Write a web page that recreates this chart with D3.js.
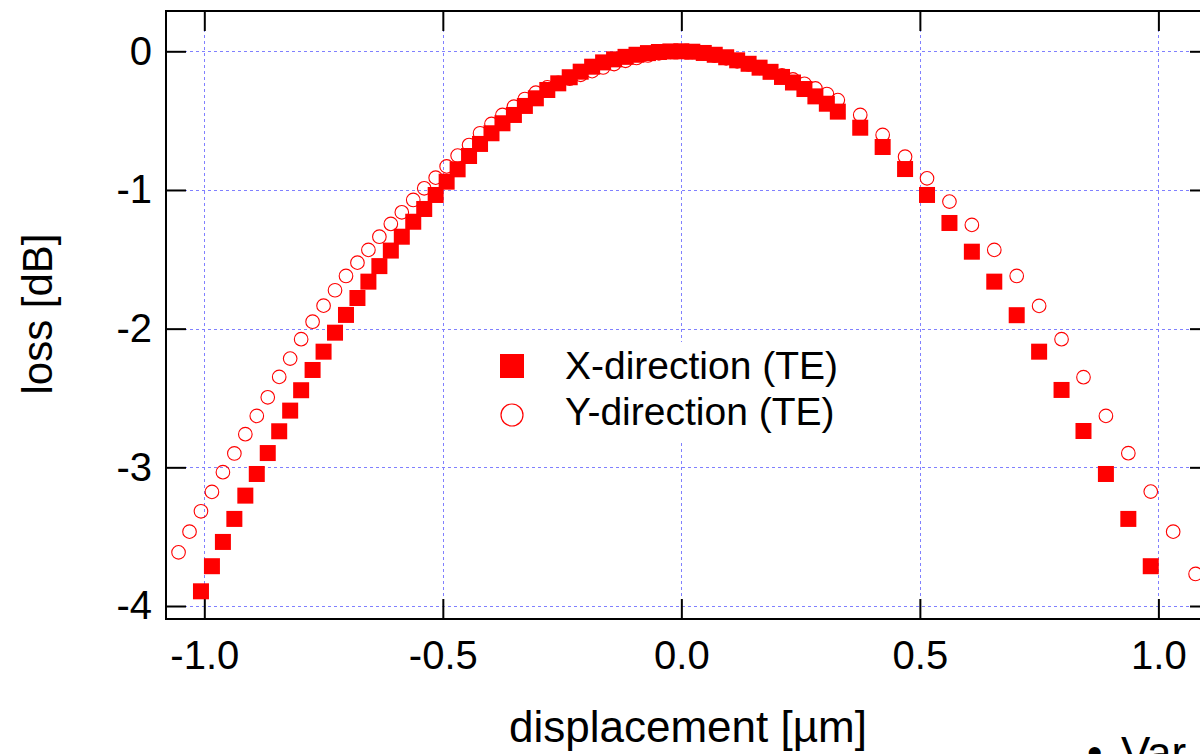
<!DOCTYPE html>
<html>
<head>
<meta charset="utf-8">
<script src="https://cdn.jsdelivr.net/npm/d3@7"></script>
<style>
  html, body { margin: 0; padding: 0; background: #fff; overflow: hidden; }
  svg { display: block; font-family: "Liberation Sans", Arial, sans-serif; }
</style>
</head>
<body>
<svg id="chart" width="1200" height="754"></svg>
<script>
// ---- data -------------------------------------------------------------
// X-direction (TE): displacement [µm]
const xDirPos = [
  -1.007, -0.984, -0.961, -0.937, -0.914, -0.890, -0.867, -0.843, -0.820, -0.797,
  -0.773, -0.750, -0.726, -0.703, -0.679, -0.656, -0.633, -0.609, -0.586, -0.562,
  -0.539, -0.515, -0.492, -0.469, -0.445, -0.422, -0.398, -0.375, -0.351, -0.328,
  -0.305, -0.281, -0.258, -0.234, -0.211, -0.187, -0.164, -0.141, -0.117, -0.094,
  -0.070, -0.047, -0.023, 0.000, 0.023, 0.047, 0.070, 0.094, 0.117, 0.141,
  0.164, 0.187, 0.211, 0.234, 0.258, 0.281, 0.305, 0.328,
  0.375, 0.422, 0.469, 0.515, 0.562, 0.609, 0.656, 0.703, 0.750, 0.797,
  0.843, 0.890, 0.937, 0.984
];
// X-direction (TE): loss [dB]
const xDirLoss = [
  -3.894, -3.713, -3.538, -3.372, -3.204, -3.048, -2.897, -2.740, -2.591, -2.444,
  -2.298, -2.166, -2.029, -1.901, -1.779, -1.661, -1.549, -1.437, -1.337, -1.229,
  -1.137, -1.036, -0.940, -0.851, -0.755, -0.668, -0.591, -0.519, -0.459, -0.394,
  -0.339, -0.279, -0.231, -0.187, -0.147, -0.111, -0.080, -0.058, -0.040, -0.025,
  -0.013, -0.005, -0.001, 0.000, -0.003, -0.012, -0.025, -0.043, -0.065, -0.090,
  -0.118, -0.148, -0.185, -0.225, -0.272, -0.325, -0.378, -0.435,
  -0.551, -0.690, -0.849, -1.036, -1.238, -1.445, -1.661, -1.903, -2.166, -2.442,
  -2.738, -3.048, -3.372, -3.713
];
// Y-direction (TE): displacement [µm]
const yDirPos = [
  -1.054, -1.031, -1.007, -0.984, -0.961, -0.937, -0.914, -0.890, -0.867, -0.843,
  -0.820, -0.797, -0.773, -0.750, -0.726, -0.703, -0.679, -0.656, -0.633, -0.609,
  -0.586, -0.562, -0.539, -0.515, -0.492, -0.469, -0.445, -0.422, -0.398, -0.375,
  -0.351, -0.328, -0.305, -0.281, -0.258, -0.234, -0.211, -0.187, -0.164, -0.141,
  -0.117, -0.094, -0.070, -0.047, -0.023, 0.000, 0.023, 0.047, 0.070, 0.094,
  0.117, 0.141, 0.164, 0.187, 0.211, 0.234, 0.258, 0.281, 0.305, 0.328,
  0.375, 0.422, 0.469, 0.515, 0.562, 0.609, 0.656, 0.703, 0.750, 0.797,
  0.843, 0.890, 0.937, 0.984, 1.031, 1.078
];
// Y-direction (TE): loss [dB]
const yDirLoss = [
  -3.613, -3.464, -3.317, -3.177, -3.035, -2.900, -2.761, -2.629, -2.495, -2.348,
  -2.216, -2.076, -1.950, -1.834, -1.723, -1.620, -1.524, -1.432, -1.337, -1.245,
  -1.161, -1.072, -0.988, -0.911, -0.830, -0.752, -0.676, -0.591, -0.524, -0.459,
  -0.399, -0.344, -0.298, -0.260, -0.228, -0.198, -0.170, -0.143, -0.117, -0.092,
  -0.069, -0.048, -0.030, -0.015, -0.004, 0.000, -0.005, -0.016, -0.032, -0.051,
  -0.072, -0.095, -0.120, -0.146, -0.174, -0.203, -0.234, -0.268, -0.308, -0.352,
  -0.459, -0.603, -0.760, -0.916, -1.084, -1.252, -1.432, -1.620, -1.836, -2.076,
  -2.350, -2.629, -2.898, -3.175, -3.464, -3.769
];

const xTicks = [-1.0, -0.5, 0.0, 0.5, 1.0];
const xTickLabels = ["-1.0", "-0.5", "0.0", "0.5", "1.0"];
const yTicks = [0, -1, -2, -3, -4];
const yTickLabels = ["0", "-1", "-2", "-3", "-4"];
const seriesNames = ["X-direction (TE)", "Y-direction (TE)"];
const xTitle = "displacement [µm]";
const yTitle = "loss [dB]";

// ---- layout -----------------------------------------------------------
const W = 1200, H = 754;
const plot = { left: 166, right: 1210, top: 11, bottom: 619 };
const RED = "#ff0000";
const GRID = "#8080ff";
const FONT = "'Liberation Sans', Arial, sans-serif";

const svg = d3.select("#chart");
svg.append("rect").attr("width", W).attr("height", H).attr("fill", "#fff");

const x = d3.scaleLinear().domain([-1.0803, 1.1082]).range([plot.left, plot.right]);
const y = d3.scaleLinear().domain([-4.0937, 0.2906]).range([plot.bottom, plot.top]);
const crisp = v => Math.round(v) + 0.5;

// ---- grid -------------------------------------------------------------
const grid = svg.append("g")
  .attr("stroke", GRID).attr("stroke-width", 1).attr("stroke-dasharray", "3,3");
grid.selectAll("line.gv").data(xTicks).join("line").attr("class", "gv")
  .attr("x1", d => crisp(x(d))).attr("x2", d => crisp(x(d)))
  .attr("y1", plot.top).attr("y2", plot.bottom);
grid.selectAll("line.gh").data(yTicks).join("line").attr("class", "gh")
  .attr("y1", d => crisp(y(d))).attr("y2", d => crisp(y(d)))
  .attr("x1", plot.left).attr("x2", plot.right);

// ---- axes (inward ticks on all four sides) -----------------------------
function styleAxis(g, fontSize) {
  g.select(".domain").remove();
  g.selectAll(".tick line").attr("stroke", "#000").attr("stroke-width", 2);
  g.selectAll(".tick text").attr("fill", "#000")
    .attr("font-family", FONT).attr("font-size", fontSize);
}
const gBottom = svg.append("g").attr("transform", `translate(0,${plot.bottom})`)
  .call(d3.axisBottom(x).tickValues(xTicks).tickSize(-20).tickPadding(22)
    .tickFormat((d, i) => xTickLabels[i]));
styleAxis(gBottom, 40);

const gTop = svg.append("g").attr("transform", `translate(0,${plot.top})`)
  .call(d3.axisTop(x).tickValues(xTicks).tickSize(-20).tickFormat(""));
styleAxis(gTop, 40);

const gLeft = svg.append("g").attr("transform", `translate(${plot.left},0)`)
  .call(d3.axisLeft(y).tickValues(yTicks).tickSize(-20).tickPadding(14)
    .tickFormat((d, i) => yTickLabels[i]));
styleAxis(gLeft, 40);

const gRight = svg.append("g").attr("transform", `translate(${plot.right},0)`)
  .call(d3.axisRight(y).tickValues(yTicks).tickSize(-20).tickFormat(""));
styleAxis(gRight, 40);

// frame
svg.append("rect")
  .attr("x", plot.left).attr("y", plot.top)
  .attr("width", plot.right - plot.left).attr("height", plot.bottom - plot.top)
  .attr("fill", "none").attr("stroke", "#000").attr("stroke-width", 2);

// ---- markers ----------------------------------------------------------
svg.append("clipPath").attr("id", "plotClip").append("rect")
  .attr("x", plot.left + 1).attr("y", plot.top + 1)
  .attr("width", plot.right - plot.left - 2).attr("height", plot.bottom - plot.top - 2);
const marks = svg.append("g").attr("clip-path", "url(#plotClip)");

const yDir = yDirPos.map((p, i) => ({ p, v: yDirLoss[i] }));
const xDir = xDirPos.map((p, i) => ({ p, v: xDirLoss[i] }));

marks.append("g").selectAll("circle").data(yDir).join("circle")
  .attr("cx", d => x(d.p)).attr("cy", d => y(d.v)).attr("r", 6.8)
  .attr("fill", "none").attr("stroke", RED).attr("stroke-width", 1.1);

const SQ = 16;
marks.append("g").selectAll("rect").data(xDir).join("rect")
  .attr("x", d => x(d.p) - SQ / 2).attr("y", d => y(d.v) - SQ / 2)
  .attr("width", SQ).attr("height", SQ).attr("fill", RED);

// ---- legend -----------------------------------------------------------
const legend = svg.append("g");
legend.append("rect").attr("x", 490).attr("y", 342).attr("width", 360).attr("height", 98)
  .attr("fill", "#fff");
legend.append("rect").attr("x", 500).attr("y", 354).attr("width", 24).attr("height", 24)
  .attr("fill", RED);
legend.append("circle").attr("cx", 512).attr("cy", 415).attr("r", 11)
  .attr("fill", "none").attr("stroke", RED).attr("stroke-width", 1.2);
legend.selectAll("text").data(seriesNames).join("text")
  .attr("x", 565).attr("y", (d, i) => 379 + i * 46)
  .attr("font-family", FONT).attr("font-size", 39).attr("fill", "#000")
  .text(d => d);

// ---- axis titles --------------------------------------------------------
svg.append("text")
  .attr("x", 688).attr("y", 742).attr("text-anchor", "middle")
  .attr("font-family", FONT).attr("font-size", 44).attr("fill", "#000")
  .text(xTitle);
svg.append("text")
  .attr("transform", "translate(52,314) rotate(-90)").attr("text-anchor", "middle")
  .attr("font-family", FONT).attr("font-size", 42).attr("fill", "#000")
  .text(yTitle);

// trailing bullet line running off the bottom edge
const note = svg.append("text").attr("y", 768)
  .attr("font-family", FONT).attr("font-size", 44).attr("fill", "#000");
note.append("tspan").attr("x", 1087).text("•");
note.append("tspan").attr("x", 1121).text("Var");
</script>
</body>
</html>
